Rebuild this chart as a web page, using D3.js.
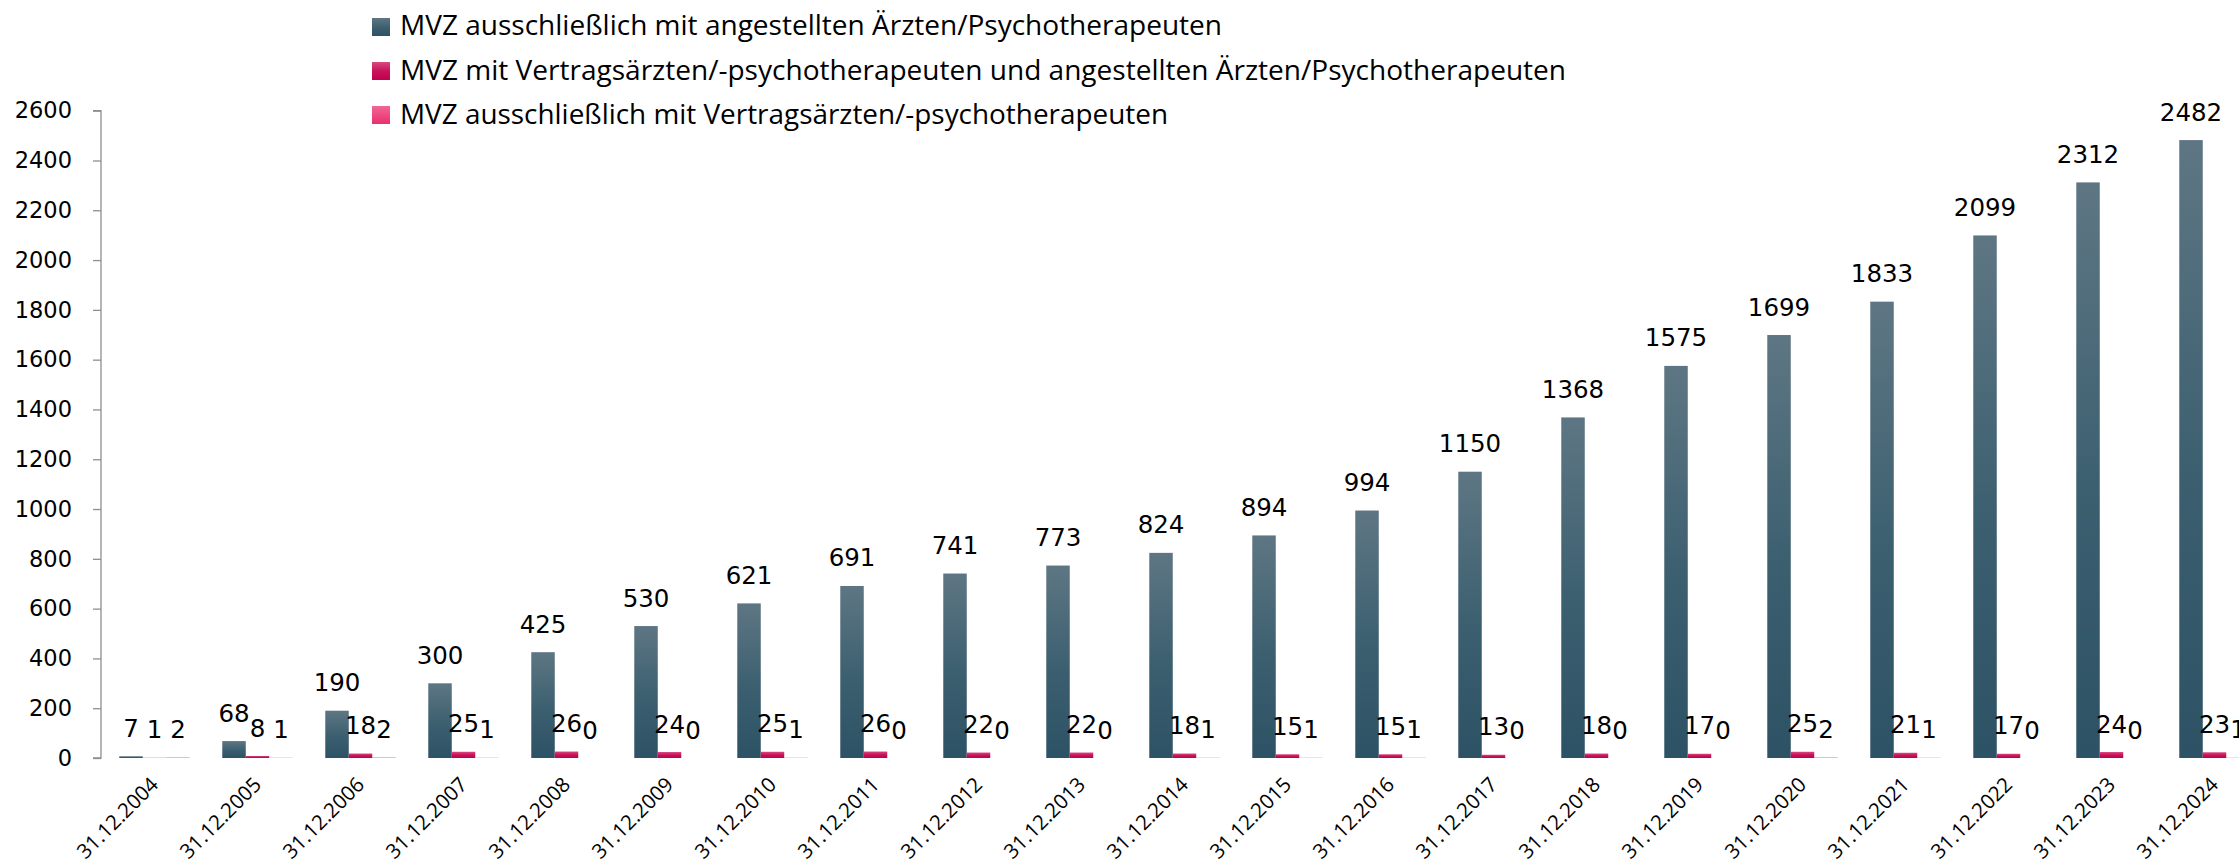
<!DOCTYPE html>
<html>
<head>
<meta charset="utf-8">
<script src="https://cdn.jsdelivr.net/npm/d3@7"></script>
<style>
html,body{margin:0;padding:0;background:#fff;}
svg{display:block;}
</style>
</head>
<body>
<svg id="chart" width="2239" height="866"></svg>
<script>
const categories = ["31.12.2004","31.12.2005","31.12.2006","31.12.2007","31.12.2008","31.12.2009","31.12.2010","31.12.2011","31.12.2012","31.12.2013","31.12.2014","31.12.2015","31.12.2016","31.12.2017","31.12.2018","31.12.2019","31.12.2020","31.12.2021","31.12.2022","31.12.2023","31.12.2024"];
const seriesNames = [
  "MVZ ausschließlich mit angestellten Ärzten/Psychotherapeuten",
  "MVZ mit Vertragsärzten/-psychotherapeuten und angestellten Ärzten/Psychotherapeuten",
  "MVZ ausschließlich mit Vertragsärzten/-psychotherapeuten"
];
const angestellt = [7,68,190,300,425,530,621,691,741,773,824,894,994,1150,1368,1575,1699,1833,2099,2312,2482];
const gemischt   = [1,8,18,25,26,24,25,26,22,22,18,15,15,13,18,17,25,21,17,24,23];
const vertrag    = [2,1,2,1,0,0,1,0,0,0,1,1,1,0,0,0,2,1,0,0,1];
const yTicks = [0,200,400,600,800,1000,1200,1400,1600,1800,2000,2200,2400,2600];

const seriesValues = [angestellt, gemischt, vertrag];
const gradIds = ["gDark","gCrimson","gPink"];

const svg = d3.select("#chart");
const defs = svg.append("defs");
function grad(id, stops){
  const g = defs.append("linearGradient").attr("id",id)
    .attr("x1",0).attr("y1",0).attr("x2",0).attr("y2",1);
  stops.forEach(s => g.append("stop").attr("offset",s[0]).attr("stop-color",s[1]));
}
grad("gDark", [[0,"#5e7683"],[0.55,"#3b5f6f"],[1,"#2d5265"]]);
grad("gCrimson", [[0,"#d9497e"],[0.5,"#c8125a"],[1,"#c0004f"]]);
grad("gPink", [[0,"#f26696"],[1,"#e8306f"]]);

const y = d3.scaleLinear().domain([0,2600]).range([758,110.7]);
const x0 = d3.scaleBand().domain(categories).range([103,2266]).paddingInner(0.316).paddingOuter(0.158);
const x1 = d3.scaleBand().domain([0,1,2]).range([0,x0.bandwidth()]);

// Y axis
const yAxis = d3.axisLeft(y).tickValues(yTicks).tickSize(8).tickPadding(21).tickFormat(d3.format("d"));
const ga = svg.append("g").attr("transform","translate(101,0)").call(yAxis);
ga.select(".domain").attr("stroke","#8f8f8f").attr("stroke-width",1.3).attr("d","M-8,"+y(2600)+"H0V"+y(0)+"H-8");
ga.selectAll(".tick line").attr("stroke","#8f8f8f").attr("stroke-width",1.3);
ga.selectAll(".tick text").attr("font-family","DejaVu Sans, Verdana, sans-serif").attr("font-size","22.5px").attr("fill","#000");

// Bars
const groups = svg.append("g").selectAll("g").data(categories).join("g")
  .attr("transform", d => `translate(${x0(d)},0)`);

groups.each(function(cat, i){
  const g = d3.select(this);
  seriesValues.forEach((vals, s) => {
    const v = vals[i];
    g.append("rect")
      .attr("x", x1(s)).attr("width", x1.bandwidth())
      .attr("y", y(v)).attr("height", y(0)-y(v))
      .attr("fill", `url(#${gradIds[s]})`);
  });
});

// Data labels
groups.each(function(cat, i){
  const g = d3.select(this);
  seriesValues.forEach((vals, s) => {
    const v = vals[i];
    g.append("text")
      .attr("x", x1(s) + x1.bandwidth()/2)
      .attr("y", y(v) - 19.5)
      .attr("text-anchor","middle")
      .attr("font-family","DejaVu Sans, Verdana, sans-serif")
      .attr("font-size","24.5px")
      .attr("fill","#000")
      .text(v);
  });
});

// X labels
svg.append("g").selectAll("text").data(categories).join("text")
  .attr("transform", d => `translate(${x0(d)+x0.bandwidth()/2+5},786) rotate(-45)`)
  .attr("text-anchor","end")
  .attr("font-family","Open Sans, sans-serif")
  .attr("font-size","20.5px")
  .attr("fill","#000")
  .text(d => d);

// Legend
const legendRows = [
  {sq:18, base:35, len:822},
  {sq:62, base:79.5, len:1166},
  {sq:106, base:124, len:768}
];
const lg = svg.append("g");
seriesNames.forEach((name, s) => {
  const r = legendRows[s];
  lg.append("rect").attr("x",372).attr("y",r.sq).attr("width",18).attr("height",18)
    .attr("fill", `url(#${gradIds[s]})`);
  lg.append("text").attr("x",400).attr("y",r.base)
    .attr("font-family","Open Sans, sans-serif").attr("font-size","28px").attr("fill","#000")
    .attr("textLength", r.len).attr("lengthAdjust","spacingAndGlyphs")
    .text(name);
});
</script>
</body>
</html>
